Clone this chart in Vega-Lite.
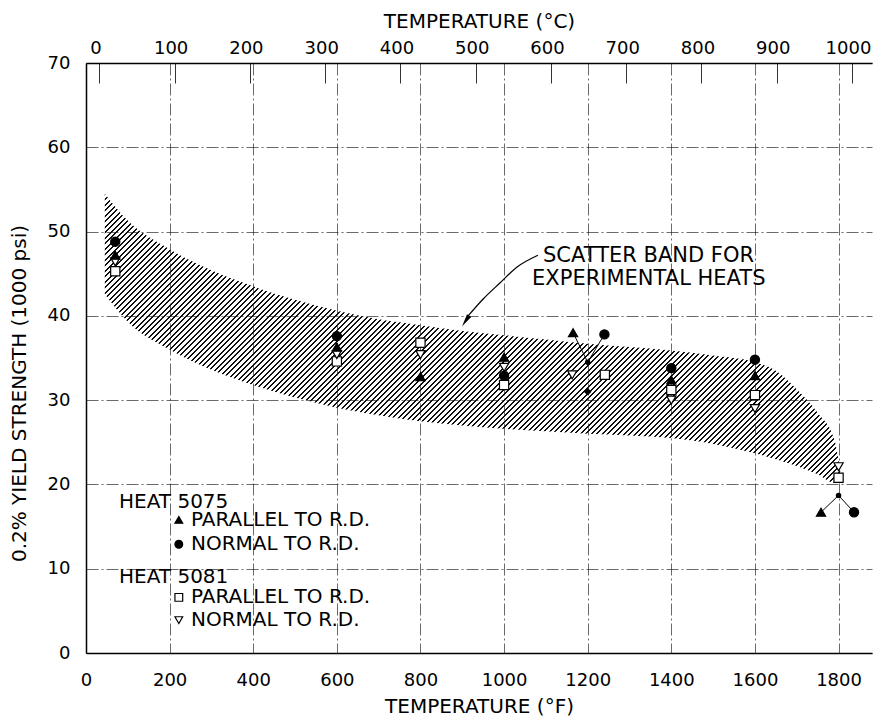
{
"$schema": "https://vega.github.io/schema/vega-lite/v6.json",
"width": 786, "height": 590,
"autosize": {"type": "none"},
"padding": {"left": 86, "top": 63, "right": 2, "bottom": 68},
"background": "white",
"config": {
  "view": {"stroke": null},
  "font": "DejaVu Sans",
  "axis": {"labelFont": "DejaVu Sans", "labelFontSize": 18, "labelColor": "black", "titleFont": "DejaVu Sans", "titleFontSize": 20, "titleFontWeight": "normal", "titleColor": "black", "domainColor": "black", "domainWidth": 1.5, "gridColor": "#222", "gridWidth": 0.8, "gridDash": [12, 3, 2, 3], "gridOpacity": 0.85, "tickColor": "#333", "tickSize": 0, "labelFlush": false, "format": "d"}
},
"layer": [
{
  "encoding": {
    "x": {"field": "F", "type": "quantitative", "scale": {"domain": [0, 1880], "nice": false, "zero": false},
      "axis": {"orient": "bottom", "values": [0, 200, 400, 600, 800, 1000, 1200, 1400, 1600, 1800], "format": "d", "title": "TEMPERATURE (°F)", "grid": true, "labelPadding": 27, "labelBaseline": "middle", "titleX": 393, "titleY": 59, "titleBaseline": "alphabetic", "titleAlign": "center"}},
    "y": {"field": "v", "type": "quantitative", "scale": {"domain": [0, 70], "nice": false},
      "axis": {"values": [0, 10, 20, 30, 40, 50, 60, 70], "format": "d", "title": "0.2% YIELD STRENGTH (1000 psi)", "grid": true, "labelPadding": 16, "titleAngle": 270, "titleX": -61, "titleY": 330, "titleAlign": "center", "titleBaseline": "alphabetic"}}
  },
  "layer": [
    {
      "data": {"values": [
        {"F": 45, "v": 54.5, "v2": 42.6},
        {"F": 100, "v": 51.3, "v2": 39.3},
        {"F": 200, "v": 47.9, "v2": 36.0},
        {"F": 300, "v": 45.4, "v2": 33.6},
        {"F": 400, "v": 43.5, "v2": 31.8},
        {"F": 500, "v": 41.9, "v2": 30.3},
        {"F": 600, "v": 40.6, "v2": 29.1},
        {"F": 700, "v": 39.6, "v2": 28.2},
        {"F": 800, "v": 38.9, "v2": 27.5},
        {"F": 900, "v": 38.2, "v2": 27.0},
        {"F": 1000, "v": 37.7, "v2": 26.6},
        {"F": 1100, "v": 37.2, "v2": 26.3},
        {"F": 1200, "v": 36.7, "v2": 26.0},
        {"F": 1300, "v": 36.3, "v2": 25.8},
        {"F": 1400, "v": 35.9, "v2": 25.5},
        {"F": 1500, "v": 35.3, "v2": 24.8},
        {"F": 1600, "v": 34.5, "v2": 23.7},
        {"F": 1650, "v": 33.5, "v2": 23.0},
        {"F": 1700, "v": 31.3, "v2": 22.2},
        {"F": 1750, "v": 28.5, "v2": 21.2},
        {"F": 1790, "v": 25.3, "v2": 20.2},
        {"F": 1805, "v": 21.2, "v2": 20.6}
      ]},
      "mark": {"type": "area", "interpolate": "monotone", "stroke": null, "fill": {"gradient": "linear", "x1": 0, "y1": 0, "x2": 1.295, "y2": 0.5086, "stops": [
{"offset":0.00,"color":"#111"},{"offset":0.0015,"color":"#111"},{"offset":0.0015,"color":"transparent"},{"offset":0.005,"color":"transparent"},{"offset":0.005,"color":"#111"},{"offset":0.0065,"color":"#111"},{"offset":0.0065,"color":"transparent"},{"offset":0.01,"color":"transparent"},
{"offset":0.01,"color":"#111"},{"offset":0.0115,"color":"#111"},{"offset":0.0115,"color":"transparent"},{"offset":0.015,"color":"transparent"},{"offset":0.015,"color":"#111"},{"offset":0.0165,"color":"#111"},{"offset":0.0165,"color":"transparent"},{"offset":0.02,"color":"transparent"},
{"offset":0.02,"color":"#111"},{"offset":0.0215,"color":"#111"},{"offset":0.0215,"color":"transparent"},{"offset":0.025,"color":"transparent"},{"offset":0.025,"color":"#111"},{"offset":0.0265,"color":"#111"},{"offset":0.0265,"color":"transparent"},{"offset":0.03,"color":"transparent"},
{"offset":0.03,"color":"#111"},{"offset":0.0315,"color":"#111"},{"offset":0.0315,"color":"transparent"},{"offset":0.035,"color":"transparent"},{"offset":0.035,"color":"#111"},{"offset":0.0365,"color":"#111"},{"offset":0.0365,"color":"transparent"},{"offset":0.04,"color":"transparent"},
{"offset":0.04,"color":"#111"},{"offset":0.0415,"color":"#111"},{"offset":0.0415,"color":"transparent"},{"offset":0.045,"color":"transparent"},{"offset":0.045,"color":"#111"},{"offset":0.0465,"color":"#111"},{"offset":0.0465,"color":"transparent"},{"offset":0.05,"color":"transparent"},
{"offset":0.05,"color":"#111"},{"offset":0.0515,"color":"#111"},{"offset":0.0515,"color":"transparent"},{"offset":0.055,"color":"transparent"},{"offset":0.055,"color":"#111"},{"offset":0.0565,"color":"#111"},{"offset":0.0565,"color":"transparent"},{"offset":0.06,"color":"transparent"},
{"offset":0.06,"color":"#111"},{"offset":0.0615,"color":"#111"},{"offset":0.0615,"color":"transparent"},{"offset":0.065,"color":"transparent"},{"offset":0.065,"color":"#111"},{"offset":0.0665,"color":"#111"},{"offset":0.0665,"color":"transparent"},{"offset":0.07,"color":"transparent"},
{"offset":0.07,"color":"#111"},{"offset":0.0715,"color":"#111"},{"offset":0.0715,"color":"transparent"},{"offset":0.075,"color":"transparent"},{"offset":0.075,"color":"#111"},{"offset":0.0765,"color":"#111"},{"offset":0.0765,"color":"transparent"},{"offset":0.08,"color":"transparent"},
{"offset":0.08,"color":"#111"},{"offset":0.0815,"color":"#111"},{"offset":0.0815,"color":"transparent"},{"offset":0.085,"color":"transparent"},{"offset":0.085,"color":"#111"},{"offset":0.0865,"color":"#111"},{"offset":0.0865,"color":"transparent"},{"offset":0.09,"color":"transparent"},
{"offset":0.09,"color":"#111"},{"offset":0.0915,"color":"#111"},{"offset":0.0915,"color":"transparent"},{"offset":0.095,"color":"transparent"},{"offset":0.095,"color":"#111"},{"offset":0.0965,"color":"#111"},{"offset":0.0965,"color":"transparent"},{"offset":0.10,"color":"transparent"},
{"offset":0.10,"color":"#111"},{"offset":0.1015,"color":"#111"},{"offset":0.1015,"color":"transparent"},{"offset":0.105,"color":"transparent"},{"offset":0.105,"color":"#111"},{"offset":0.1065,"color":"#111"},{"offset":0.1065,"color":"transparent"},{"offset":0.11,"color":"transparent"},
{"offset":0.11,"color":"#111"},{"offset":0.1115,"color":"#111"},{"offset":0.1115,"color":"transparent"},{"offset":0.115,"color":"transparent"},{"offset":0.115,"color":"#111"},{"offset":0.1165,"color":"#111"},{"offset":0.1165,"color":"transparent"},{"offset":0.12,"color":"transparent"},
{"offset":0.12,"color":"#111"},{"offset":0.1215,"color":"#111"},{"offset":0.1215,"color":"transparent"},{"offset":0.125,"color":"transparent"},{"offset":0.125,"color":"#111"},{"offset":0.1265,"color":"#111"},{"offset":0.1265,"color":"transparent"},{"offset":0.13,"color":"transparent"},
{"offset":0.13,"color":"#111"},{"offset":0.1315,"color":"#111"},{"offset":0.1315,"color":"transparent"},{"offset":0.135,"color":"transparent"},{"offset":0.135,"color":"#111"},{"offset":0.1365,"color":"#111"},{"offset":0.1365,"color":"transparent"},{"offset":0.14,"color":"transparent"},
{"offset":0.14,"color":"#111"},{"offset":0.1415,"color":"#111"},{"offset":0.1415,"color":"transparent"},{"offset":0.145,"color":"transparent"},{"offset":0.145,"color":"#111"},{"offset":0.1465,"color":"#111"},{"offset":0.1465,"color":"transparent"},{"offset":0.15,"color":"transparent"},
{"offset":0.15,"color":"#111"},{"offset":0.1515,"color":"#111"},{"offset":0.1515,"color":"transparent"},{"offset":0.155,"color":"transparent"},{"offset":0.155,"color":"#111"},{"offset":0.1565,"color":"#111"},{"offset":0.1565,"color":"transparent"},{"offset":0.16,"color":"transparent"},
{"offset":0.16,"color":"#111"},{"offset":0.1615,"color":"#111"},{"offset":0.1615,"color":"transparent"},{"offset":0.165,"color":"transparent"},{"offset":0.165,"color":"#111"},{"offset":0.1665,"color":"#111"},{"offset":0.1665,"color":"transparent"},{"offset":0.17,"color":"transparent"},
{"offset":0.17,"color":"#111"},{"offset":0.1715,"color":"#111"},{"offset":0.1715,"color":"transparent"},{"offset":0.175,"color":"transparent"},{"offset":0.175,"color":"#111"},{"offset":0.1765,"color":"#111"},{"offset":0.1765,"color":"transparent"},{"offset":0.18,"color":"transparent"},
{"offset":0.18,"color":"#111"},{"offset":0.1815,"color":"#111"},{"offset":0.1815,"color":"transparent"},{"offset":0.185,"color":"transparent"},{"offset":0.185,"color":"#111"},{"offset":0.1865,"color":"#111"},{"offset":0.1865,"color":"transparent"},{"offset":0.19,"color":"transparent"},
{"offset":0.19,"color":"#111"},{"offset":0.1915,"color":"#111"},{"offset":0.1915,"color":"transparent"},{"offset":0.195,"color":"transparent"},{"offset":0.195,"color":"#111"},{"offset":0.1965,"color":"#111"},{"offset":0.1965,"color":"transparent"},{"offset":0.20,"color":"transparent"},
{"offset":0.20,"color":"#111"},{"offset":0.2015,"color":"#111"},{"offset":0.2015,"color":"transparent"},{"offset":0.205,"color":"transparent"},{"offset":0.205,"color":"#111"},{"offset":0.2065,"color":"#111"},{"offset":0.2065,"color":"transparent"},{"offset":0.21,"color":"transparent"},
{"offset":0.21,"color":"#111"},{"offset":0.2115,"color":"#111"},{"offset":0.2115,"color":"transparent"},{"offset":0.215,"color":"transparent"},{"offset":0.215,"color":"#111"},{"offset":0.2165,"color":"#111"},{"offset":0.2165,"color":"transparent"},{"offset":0.22,"color":"transparent"},
{"offset":0.22,"color":"#111"},{"offset":0.2215,"color":"#111"},{"offset":0.2215,"color":"transparent"},{"offset":0.225,"color":"transparent"},{"offset":0.225,"color":"#111"},{"offset":0.2265,"color":"#111"},{"offset":0.2265,"color":"transparent"},{"offset":0.23,"color":"transparent"},
{"offset":0.23,"color":"#111"},{"offset":0.2315,"color":"#111"},{"offset":0.2315,"color":"transparent"},{"offset":0.235,"color":"transparent"},{"offset":0.235,"color":"#111"},{"offset":0.2365,"color":"#111"},{"offset":0.2365,"color":"transparent"},{"offset":0.24,"color":"transparent"},
{"offset":0.24,"color":"#111"},{"offset":0.2415,"color":"#111"},{"offset":0.2415,"color":"transparent"},{"offset":0.245,"color":"transparent"},{"offset":0.245,"color":"#111"},{"offset":0.2465,"color":"#111"},{"offset":0.2465,"color":"transparent"},{"offset":0.25,"color":"transparent"},
{"offset":0.25,"color":"#111"},{"offset":0.2515,"color":"#111"},{"offset":0.2515,"color":"transparent"},{"offset":0.255,"color":"transparent"},{"offset":0.255,"color":"#111"},{"offset":0.2565,"color":"#111"},{"offset":0.2565,"color":"transparent"},{"offset":0.26,"color":"transparent"},
{"offset":0.26,"color":"#111"},{"offset":0.2615,"color":"#111"},{"offset":0.2615,"color":"transparent"},{"offset":0.265,"color":"transparent"},{"offset":0.265,"color":"#111"},{"offset":0.2665,"color":"#111"},{"offset":0.2665,"color":"transparent"},{"offset":0.27,"color":"transparent"},
{"offset":0.27,"color":"#111"},{"offset":0.2715,"color":"#111"},{"offset":0.2715,"color":"transparent"},{"offset":0.275,"color":"transparent"},{"offset":0.275,"color":"#111"},{"offset":0.2765,"color":"#111"},{"offset":0.2765,"color":"transparent"},{"offset":0.28,"color":"transparent"},
{"offset":0.28,"color":"#111"},{"offset":0.2815,"color":"#111"},{"offset":0.2815,"color":"transparent"},{"offset":0.285,"color":"transparent"},{"offset":0.285,"color":"#111"},{"offset":0.2865,"color":"#111"},{"offset":0.2865,"color":"transparent"},{"offset":0.29,"color":"transparent"},
{"offset":0.29,"color":"#111"},{"offset":0.2915,"color":"#111"},{"offset":0.2915,"color":"transparent"},{"offset":0.295,"color":"transparent"},{"offset":0.295,"color":"#111"},{"offset":0.2965,"color":"#111"},{"offset":0.2965,"color":"transparent"},{"offset":0.30,"color":"transparent"},
{"offset":0.30,"color":"#111"},{"offset":0.3015,"color":"#111"},{"offset":0.3015,"color":"transparent"},{"offset":0.305,"color":"transparent"},{"offset":0.305,"color":"#111"},{"offset":0.3065,"color":"#111"},{"offset":0.3065,"color":"transparent"},{"offset":0.31,"color":"transparent"},
{"offset":0.31,"color":"#111"},{"offset":0.3115,"color":"#111"},{"offset":0.3115,"color":"transparent"},{"offset":0.315,"color":"transparent"},{"offset":0.315,"color":"#111"},{"offset":0.3165,"color":"#111"},{"offset":0.3165,"color":"transparent"},{"offset":0.32,"color":"transparent"},
{"offset":0.32,"color":"#111"},{"offset":0.3215,"color":"#111"},{"offset":0.3215,"color":"transparent"},{"offset":0.325,"color":"transparent"},{"offset":0.325,"color":"#111"},{"offset":0.3265,"color":"#111"},{"offset":0.3265,"color":"transparent"},{"offset":0.33,"color":"transparent"},
{"offset":0.33,"color":"#111"},{"offset":0.3315,"color":"#111"},{"offset":0.3315,"color":"transparent"},{"offset":0.335,"color":"transparent"},{"offset":0.335,"color":"#111"},{"offset":0.3365,"color":"#111"},{"offset":0.3365,"color":"transparent"},{"offset":0.34,"color":"transparent"},
{"offset":0.34,"color":"#111"},{"offset":0.3415,"color":"#111"},{"offset":0.3415,"color":"transparent"},{"offset":0.345,"color":"transparent"},{"offset":0.345,"color":"#111"},{"offset":0.3465,"color":"#111"},{"offset":0.3465,"color":"transparent"},{"offset":0.35,"color":"transparent"},
{"offset":0.35,"color":"#111"},{"offset":0.3515,"color":"#111"},{"offset":0.3515,"color":"transparent"},{"offset":0.355,"color":"transparent"},{"offset":0.355,"color":"#111"},{"offset":0.3565,"color":"#111"},{"offset":0.3565,"color":"transparent"},{"offset":0.36,"color":"transparent"},
{"offset":0.36,"color":"#111"},{"offset":0.3615,"color":"#111"},{"offset":0.3615,"color":"transparent"},{"offset":0.365,"color":"transparent"},{"offset":0.365,"color":"#111"},{"offset":0.3665,"color":"#111"},{"offset":0.3665,"color":"transparent"},{"offset":0.37,"color":"transparent"},
{"offset":0.37,"color":"#111"},{"offset":0.3715,"color":"#111"},{"offset":0.3715,"color":"transparent"},{"offset":0.375,"color":"transparent"},{"offset":0.375,"color":"#111"},{"offset":0.3765,"color":"#111"},{"offset":0.3765,"color":"transparent"},{"offset":0.38,"color":"transparent"},
{"offset":0.38,"color":"#111"},{"offset":0.3815,"color":"#111"},{"offset":0.3815,"color":"transparent"},{"offset":0.385,"color":"transparent"},{"offset":0.385,"color":"#111"},{"offset":0.3865,"color":"#111"},{"offset":0.3865,"color":"transparent"},{"offset":0.39,"color":"transparent"},
{"offset":0.39,"color":"#111"},{"offset":0.3915,"color":"#111"},{"offset":0.3915,"color":"transparent"},{"offset":0.395,"color":"transparent"},{"offset":0.395,"color":"#111"},{"offset":0.3965,"color":"#111"},{"offset":0.3965,"color":"transparent"},{"offset":0.40,"color":"transparent"},
{"offset":0.40,"color":"#111"},{"offset":0.4015,"color":"#111"},{"offset":0.4015,"color":"transparent"},{"offset":0.405,"color":"transparent"},{"offset":0.405,"color":"#111"},{"offset":0.4065,"color":"#111"},{"offset":0.4065,"color":"transparent"},{"offset":0.41,"color":"transparent"},
{"offset":0.41,"color":"#111"},{"offset":0.4115,"color":"#111"},{"offset":0.4115,"color":"transparent"},{"offset":0.415,"color":"transparent"},{"offset":0.415,"color":"#111"},{"offset":0.4165,"color":"#111"},{"offset":0.4165,"color":"transparent"},{"offset":0.42,"color":"transparent"},
{"offset":0.42,"color":"#111"},{"offset":0.4215,"color":"#111"},{"offset":0.4215,"color":"transparent"},{"offset":0.425,"color":"transparent"},{"offset":0.425,"color":"#111"},{"offset":0.4265,"color":"#111"},{"offset":0.4265,"color":"transparent"},{"offset":0.43,"color":"transparent"},
{"offset":0.43,"color":"#111"},{"offset":0.4315,"color":"#111"},{"offset":0.4315,"color":"transparent"},{"offset":0.435,"color":"transparent"},{"offset":0.435,"color":"#111"},{"offset":0.4365,"color":"#111"},{"offset":0.4365,"color":"transparent"},{"offset":0.44,"color":"transparent"},
{"offset":0.44,"color":"#111"},{"offset":0.4415,"color":"#111"},{"offset":0.4415,"color":"transparent"},{"offset":0.445,"color":"transparent"},{"offset":0.445,"color":"#111"},{"offset":0.4465,"color":"#111"},{"offset":0.4465,"color":"transparent"},{"offset":0.45,"color":"transparent"},
{"offset":0.45,"color":"#111"},{"offset":0.4515,"color":"#111"},{"offset":0.4515,"color":"transparent"},{"offset":0.455,"color":"transparent"},{"offset":0.455,"color":"#111"},{"offset":0.4565,"color":"#111"},{"offset":0.4565,"color":"transparent"},{"offset":0.46,"color":"transparent"},
{"offset":0.46,"color":"#111"},{"offset":0.4615,"color":"#111"},{"offset":0.4615,"color":"transparent"},{"offset":0.465,"color":"transparent"},{"offset":0.465,"color":"#111"},{"offset":0.4665,"color":"#111"},{"offset":0.4665,"color":"transparent"},{"offset":0.47,"color":"transparent"},
{"offset":0.47,"color":"#111"},{"offset":0.4715,"color":"#111"},{"offset":0.4715,"color":"transparent"},{"offset":0.475,"color":"transparent"},{"offset":0.475,"color":"#111"},{"offset":0.4765,"color":"#111"},{"offset":0.4765,"color":"transparent"},{"offset":0.48,"color":"transparent"},
{"offset":0.48,"color":"#111"},{"offset":0.4815,"color":"#111"},{"offset":0.4815,"color":"transparent"},{"offset":0.485,"color":"transparent"},{"offset":0.485,"color":"#111"},{"offset":0.4865,"color":"#111"},{"offset":0.4865,"color":"transparent"},{"offset":0.49,"color":"transparent"},
{"offset":0.49,"color":"#111"},{"offset":0.4915,"color":"#111"},{"offset":0.4915,"color":"transparent"},{"offset":0.495,"color":"transparent"},{"offset":0.495,"color":"#111"},{"offset":0.4965,"color":"#111"},{"offset":0.4965,"color":"transparent"},{"offset":0.50,"color":"transparent"},
{"offset":0.50,"color":"#111"},{"offset":0.5015,"color":"#111"},{"offset":0.5015,"color":"transparent"},{"offset":0.505,"color":"transparent"},{"offset":0.505,"color":"#111"},{"offset":0.5065,"color":"#111"},{"offset":0.5065,"color":"transparent"},{"offset":0.51,"color":"transparent"},
{"offset":0.51,"color":"#111"},{"offset":0.5115,"color":"#111"},{"offset":0.5115,"color":"transparent"},{"offset":0.515,"color":"transparent"},{"offset":0.515,"color":"#111"},{"offset":0.5165,"color":"#111"},{"offset":0.5165,"color":"transparent"},{"offset":0.52,"color":"transparent"},
{"offset":0.52,"color":"#111"},{"offset":0.5215,"color":"#111"},{"offset":0.5215,"color":"transparent"},{"offset":0.525,"color":"transparent"},{"offset":0.525,"color":"#111"},{"offset":0.5265,"color":"#111"},{"offset":0.5265,"color":"transparent"},{"offset":0.53,"color":"transparent"},
{"offset":0.53,"color":"#111"},{"offset":0.5315,"color":"#111"},{"offset":0.5315,"color":"transparent"},{"offset":0.535,"color":"transparent"},{"offset":0.535,"color":"#111"},{"offset":0.5365,"color":"#111"},{"offset":0.5365,"color":"transparent"},{"offset":0.54,"color":"transparent"},
{"offset":0.54,"color":"#111"},{"offset":0.5415,"color":"#111"},{"offset":0.5415,"color":"transparent"},{"offset":0.545,"color":"transparent"},{"offset":0.545,"color":"#111"},{"offset":0.5465,"color":"#111"},{"offset":0.5465,"color":"transparent"},{"offset":0.55,"color":"transparent"},
{"offset":0.55,"color":"#111"},{"offset":0.5515,"color":"#111"},{"offset":0.5515,"color":"transparent"},{"offset":0.555,"color":"transparent"},{"offset":0.555,"color":"#111"},{"offset":0.5565,"color":"#111"},{"offset":0.5565,"color":"transparent"},{"offset":0.56,"color":"transparent"},
{"offset":0.56,"color":"#111"},{"offset":0.5615,"color":"#111"},{"offset":0.5615,"color":"transparent"},{"offset":0.565,"color":"transparent"},{"offset":0.565,"color":"#111"},{"offset":0.5665,"color":"#111"},{"offset":0.5665,"color":"transparent"},{"offset":0.57,"color":"transparent"},
{"offset":0.57,"color":"#111"},{"offset":0.5715,"color":"#111"},{"offset":0.5715,"color":"transparent"},{"offset":0.575,"color":"transparent"},{"offset":0.575,"color":"#111"},{"offset":0.5765,"color":"#111"},{"offset":0.5765,"color":"transparent"},{"offset":0.58,"color":"transparent"},
{"offset":0.58,"color":"#111"},{"offset":0.5815,"color":"#111"},{"offset":0.5815,"color":"transparent"},{"offset":0.585,"color":"transparent"},{"offset":0.585,"color":"#111"},{"offset":0.5865,"color":"#111"},{"offset":0.5865,"color":"transparent"},{"offset":0.59,"color":"transparent"},
{"offset":0.59,"color":"#111"},{"offset":0.5915,"color":"#111"},{"offset":0.5915,"color":"transparent"},{"offset":0.595,"color":"transparent"},{"offset":0.595,"color":"#111"},{"offset":0.5965,"color":"#111"},{"offset":0.5965,"color":"transparent"},{"offset":0.60,"color":"transparent"},
{"offset":0.60,"color":"#111"},{"offset":0.6015,"color":"#111"},{"offset":0.6015,"color":"transparent"},{"offset":0.605,"color":"transparent"},{"offset":0.605,"color":"#111"},{"offset":0.6065,"color":"#111"},{"offset":0.6065,"color":"transparent"},{"offset":0.61,"color":"transparent"},
{"offset":0.61,"color":"#111"},{"offset":0.6115,"color":"#111"},{"offset":0.6115,"color":"transparent"},{"offset":0.615,"color":"transparent"},{"offset":0.615,"color":"#111"},{"offset":0.6165,"color":"#111"},{"offset":0.6165,"color":"transparent"},{"offset":0.62,"color":"transparent"},
{"offset":0.62,"color":"#111"},{"offset":0.6215,"color":"#111"},{"offset":0.6215,"color":"transparent"},{"offset":0.625,"color":"transparent"},{"offset":0.625,"color":"#111"},{"offset":0.6265,"color":"#111"},{"offset":0.6265,"color":"transparent"},{"offset":0.63,"color":"transparent"},
{"offset":0.63,"color":"#111"},{"offset":0.6315,"color":"#111"},{"offset":0.6315,"color":"transparent"},{"offset":0.635,"color":"transparent"},{"offset":0.635,"color":"#111"},{"offset":0.6365,"color":"#111"},{"offset":0.6365,"color":"transparent"},{"offset":0.64,"color":"transparent"},
{"offset":0.64,"color":"#111"},{"offset":0.6415,"color":"#111"},{"offset":0.6415,"color":"transparent"},{"offset":0.645,"color":"transparent"},{"offset":0.645,"color":"#111"},{"offset":0.6465,"color":"#111"},{"offset":0.6465,"color":"transparent"},{"offset":0.65,"color":"transparent"},
{"offset":0.65,"color":"#111"},{"offset":0.6515,"color":"#111"},{"offset":0.6515,"color":"transparent"},{"offset":0.655,"color":"transparent"},{"offset":0.655,"color":"#111"},{"offset":0.6565,"color":"#111"},{"offset":0.6565,"color":"transparent"},{"offset":0.66,"color":"transparent"},
{"offset":0.66,"color":"#111"},{"offset":0.6615,"color":"#111"},{"offset":0.6615,"color":"transparent"},{"offset":0.665,"color":"transparent"},{"offset":0.665,"color":"#111"},{"offset":0.6665,"color":"#111"},{"offset":0.6665,"color":"transparent"},{"offset":0.67,"color":"transparent"},
{"offset":0.67,"color":"#111"},{"offset":0.6715,"color":"#111"},{"offset":0.6715,"color":"transparent"},{"offset":0.675,"color":"transparent"},{"offset":0.675,"color":"#111"},{"offset":0.6765,"color":"#111"},{"offset":0.6765,"color":"transparent"},{"offset":0.68,"color":"transparent"},
{"offset":0.68,"color":"#111"},{"offset":0.6815,"color":"#111"},{"offset":0.6815,"color":"transparent"},{"offset":0.685,"color":"transparent"},{"offset":0.685,"color":"#111"},{"offset":0.6865,"color":"#111"},{"offset":0.6865,"color":"transparent"},{"offset":0.69,"color":"transparent"},
{"offset":0.69,"color":"#111"},{"offset":0.6915,"color":"#111"},{"offset":0.6915,"color":"transparent"},{"offset":0.695,"color":"transparent"},{"offset":0.695,"color":"#111"},{"offset":0.6965,"color":"#111"},{"offset":0.6965,"color":"transparent"},{"offset":0.70,"color":"transparent"},
{"offset":0.70,"color":"#111"},{"offset":0.7015,"color":"#111"},{"offset":0.7015,"color":"transparent"},{"offset":0.705,"color":"transparent"},{"offset":0.705,"color":"#111"},{"offset":0.7065,"color":"#111"},{"offset":0.7065,"color":"transparent"},{"offset":0.71,"color":"transparent"},
{"offset":0.71,"color":"#111"},{"offset":0.7115,"color":"#111"},{"offset":0.7115,"color":"transparent"},{"offset":0.715,"color":"transparent"},{"offset":0.715,"color":"#111"},{"offset":0.7165,"color":"#111"},{"offset":0.7165,"color":"transparent"},{"offset":0.72,"color":"transparent"},
{"offset":0.72,"color":"#111"},{"offset":0.7215,"color":"#111"},{"offset":0.7215,"color":"transparent"},{"offset":0.725,"color":"transparent"},{"offset":0.725,"color":"#111"},{"offset":0.7265,"color":"#111"},{"offset":0.7265,"color":"transparent"},{"offset":0.73,"color":"transparent"},
{"offset":0.73,"color":"#111"},{"offset":0.7315,"color":"#111"},{"offset":0.7315,"color":"transparent"},{"offset":0.735,"color":"transparent"},{"offset":0.735,"color":"#111"},{"offset":0.7365,"color":"#111"},{"offset":0.7365,"color":"transparent"},{"offset":0.74,"color":"transparent"},
{"offset":0.74,"color":"#111"},{"offset":0.7415,"color":"#111"},{"offset":0.7415,"color":"transparent"},{"offset":0.745,"color":"transparent"},{"offset":0.745,"color":"#111"},{"offset":0.7465,"color":"#111"},{"offset":0.7465,"color":"transparent"},{"offset":0.75,"color":"transparent"},
{"offset":0.75,"color":"#111"},{"offset":0.7515,"color":"#111"},{"offset":0.7515,"color":"transparent"},{"offset":0.755,"color":"transparent"},{"offset":0.755,"color":"#111"},{"offset":0.7565,"color":"#111"},{"offset":0.7565,"color":"transparent"},{"offset":0.76,"color":"transparent"},
{"offset":0.76,"color":"#111"},{"offset":0.7615,"color":"#111"},{"offset":0.7615,"color":"transparent"},{"offset":0.765,"color":"transparent"},{"offset":0.765,"color":"#111"},{"offset":0.7665,"color":"#111"},{"offset":0.7665,"color":"transparent"},{"offset":0.77,"color":"transparent"},
{"offset":0.77,"color":"#111"},{"offset":0.7715,"color":"#111"},{"offset":0.7715,"color":"transparent"},{"offset":0.775,"color":"transparent"},{"offset":0.775,"color":"#111"},{"offset":0.7765,"color":"#111"},{"offset":0.7765,"color":"transparent"},{"offset":0.78,"color":"transparent"},
{"offset":0.78,"color":"#111"},{"offset":0.7815,"color":"#111"},{"offset":0.7815,"color":"transparent"},{"offset":0.785,"color":"transparent"},{"offset":0.785,"color":"#111"},{"offset":0.7865,"color":"#111"},{"offset":0.7865,"color":"transparent"},{"offset":0.79,"color":"transparent"},
{"offset":0.79,"color":"#111"},{"offset":0.7915,"color":"#111"},{"offset":0.7915,"color":"transparent"},{"offset":0.795,"color":"transparent"},{"offset":0.795,"color":"#111"},{"offset":0.7965,"color":"#111"},{"offset":0.7965,"color":"transparent"},{"offset":0.80,"color":"transparent"},
{"offset":0.80,"color":"#111"},{"offset":0.8015,"color":"#111"},{"offset":0.8015,"color":"transparent"},{"offset":0.805,"color":"transparent"},{"offset":0.805,"color":"#111"},{"offset":0.8065,"color":"#111"},{"offset":0.8065,"color":"transparent"},{"offset":0.81,"color":"transparent"},
{"offset":0.81,"color":"#111"},{"offset":0.8115,"color":"#111"},{"offset":0.8115,"color":"transparent"},{"offset":0.815,"color":"transparent"},{"offset":0.815,"color":"#111"},{"offset":0.8165,"color":"#111"},{"offset":0.8165,"color":"transparent"},{"offset":0.82,"color":"transparent"},
{"offset":0.82,"color":"#111"},{"offset":0.8215,"color":"#111"},{"offset":0.8215,"color":"transparent"},{"offset":0.825,"color":"transparent"},{"offset":0.825,"color":"#111"},{"offset":0.8265,"color":"#111"},{"offset":0.8265,"color":"transparent"},{"offset":0.83,"color":"transparent"},
{"offset":0.83,"color":"#111"},{"offset":0.8315,"color":"#111"},{"offset":0.8315,"color":"transparent"},{"offset":0.835,"color":"transparent"},{"offset":0.835,"color":"#111"},{"offset":0.8365,"color":"#111"},{"offset":0.8365,"color":"transparent"},{"offset":0.84,"color":"transparent"},
{"offset":0.84,"color":"#111"},{"offset":0.8415,"color":"#111"},{"offset":0.8415,"color":"transparent"},{"offset":0.845,"color":"transparent"},{"offset":0.845,"color":"#111"},{"offset":0.8465,"color":"#111"},{"offset":0.8465,"color":"transparent"},{"offset":0.85,"color":"transparent"},
{"offset":0.85,"color":"#111"},{"offset":0.8515,"color":"#111"},{"offset":0.8515,"color":"transparent"},{"offset":0.855,"color":"transparent"},{"offset":0.855,"color":"#111"},{"offset":0.8565,"color":"#111"},{"offset":0.8565,"color":"transparent"},{"offset":0.86,"color":"transparent"},
{"offset":0.86,"color":"#111"},{"offset":0.8615,"color":"#111"},{"offset":0.8615,"color":"transparent"},{"offset":0.865,"color":"transparent"},{"offset":0.865,"color":"#111"},{"offset":0.8665,"color":"#111"},{"offset":0.8665,"color":"transparent"},{"offset":0.87,"color":"transparent"},
{"offset":0.87,"color":"#111"},{"offset":0.8715,"color":"#111"},{"offset":0.8715,"color":"transparent"},{"offset":0.875,"color":"transparent"},{"offset":0.875,"color":"#111"},{"offset":0.8765,"color":"#111"},{"offset":0.8765,"color":"transparent"},{"offset":0.88,"color":"transparent"},
{"offset":0.88,"color":"#111"},{"offset":0.8815,"color":"#111"},{"offset":0.8815,"color":"transparent"},{"offset":0.885,"color":"transparent"},{"offset":0.885,"color":"#111"},{"offset":0.8865,"color":"#111"},{"offset":0.8865,"color":"transparent"},{"offset":0.89,"color":"transparent"},
{"offset":0.89,"color":"#111"},{"offset":0.8915,"color":"#111"},{"offset":0.8915,"color":"transparent"},{"offset":0.895,"color":"transparent"},{"offset":0.895,"color":"#111"},{"offset":0.8965,"color":"#111"},{"offset":0.8965,"color":"transparent"},{"offset":0.90,"color":"transparent"},
{"offset":0.90,"color":"#111"},{"offset":0.9015,"color":"#111"},{"offset":0.9015,"color":"transparent"},{"offset":0.905,"color":"transparent"},{"offset":0.905,"color":"#111"},{"offset":0.9065,"color":"#111"},{"offset":0.9065,"color":"transparent"},{"offset":0.91,"color":"transparent"},
{"offset":0.91,"color":"#111"},{"offset":0.9115,"color":"#111"},{"offset":0.9115,"color":"transparent"},{"offset":0.915,"color":"transparent"},{"offset":0.915,"color":"#111"},{"offset":0.9165,"color":"#111"},{"offset":0.9165,"color":"transparent"},{"offset":0.92,"color":"transparent"},
{"offset":0.92,"color":"#111"},{"offset":0.9215,"color":"#111"},{"offset":0.9215,"color":"transparent"},{"offset":0.925,"color":"transparent"},{"offset":0.925,"color":"#111"},{"offset":0.9265,"color":"#111"},{"offset":0.9265,"color":"transparent"},{"offset":0.93,"color":"transparent"},
{"offset":0.93,"color":"#111"},{"offset":0.9315,"color":"#111"},{"offset":0.9315,"color":"transparent"},{"offset":0.935,"color":"transparent"},{"offset":0.935,"color":"#111"},{"offset":0.9365,"color":"#111"},{"offset":0.9365,"color":"transparent"},{"offset":0.94,"color":"transparent"},
{"offset":0.94,"color":"#111"},{"offset":0.9415,"color":"#111"},{"offset":0.9415,"color":"transparent"},{"offset":0.945,"color":"transparent"},{"offset":0.945,"color":"#111"},{"offset":0.9465,"color":"#111"},{"offset":0.9465,"color":"transparent"},{"offset":0.95,"color":"transparent"}
      ]}},
      "encoding": {"y2": {"field": "v2"}}
    },
    {
      "data": {"values": [
        {"F": 914, "v": 40.0}, {"F": 950, "v": 42.0}, {"F": 990, "v": 43.9}, {"F": 1031, "v": 45.8}, {"F": 1081, "v": 47.2}
      ]},
      "mark": {"type": "line", "interpolate": "monotone", "color": "black", "strokeWidth": 1.2}
    },
    {
      "data": {"values": [{"F": 908, "v": 39.4}]},
      "mark": {"type": "point", "shape": "M0,-1L0.4,1L-0.4,1Z", "angle": 214, "filled": true, "color": "black", "size": 160, "opacity": 1}
    },
    {
      "data": {"values": [
        {"F": 1165, "v": 38.0, "F2": 1200, "v2": 34.5},
        {"F": 1240, "v": 37.8, "F2": 1200, "v2": 34.5},
        {"F": 1758, "v": 16.7, "F2": 1800, "v2": 18.7},
        {"F": 1837, "v": 16.7, "F2": 1800, "v2": 18.7}
      ]},
      "mark": {"type": "rule", "color": "black", "strokeWidth": 1},
      "encoding": {"x2": {"field": "F2"}, "y2": {"field": "v2"}}
    },
    {
      "data": {"values": [
        {"F": 70, "v": 45.3, "s": "5081P"}, {"F": 70, "v": 46.4, "s": "5081N"}, {"F": 70, "v": 47.2, "s": "5075P"}, {"F": 70, "v": 48.8, "s": "5075N"},
        {"F": 600, "v": 34.6, "s": "5081P"}, {"F": 600, "v": 35.4, "s": "5081N"}, {"F": 600, "v": 36.3, "s": "5075P"}, {"F": 600, "v": 37.6, "s": "5075N"},
        {"F": 800, "v": 36.8, "s": "5081P"}, {"F": 800, "v": 35.4, "s": "5081N"}, {"F": 800, "v": 32.8, "s": "5075P"},
        {"F": 1000, "v": 31.8, "s": "5081P"}, {"F": 1000, "v": 33.9, "s": "5081N"}, {"F": 1000, "v": 35.1, "s": "5075P"}, {"F": 1000, "v": 32.9, "s": "5075N"},
        {"F": 1165, "v": 38.0, "s": "5075P"}, {"F": 1240, "v": 37.8, "s": "5075N"}, {"F": 1163, "v": 33.0, "s": "5081N"}, {"F": 1241, "v": 33.0, "s": "5081P"},
        {"F": 1400, "v": 31.2, "s": "5081P"}, {"F": 1400, "v": 30.0, "s": "5081N"}, {"F": 1400, "v": 32.4, "s": "5075P"}, {"F": 1400, "v": 33.8, "s": "5075N"},
        {"F": 1600, "v": 30.6, "s": "5081P"}, {"F": 1600, "v": 29.0, "s": "5081N"}, {"F": 1600, "v": 32.9, "s": "5075P"}, {"F": 1600, "v": 34.8, "s": "5075N"},
        {"F": 1800, "v": 20.8, "s": "5081P"}, {"F": 1800, "v": 22.1, "s": "5081N"}, {"F": 1758, "v": 16.7, "s": "5075P"}, {"F": 1837, "v": 16.7, "s": "5075N"}
      ]},
      "mark": {"type": "point", "filled": true, "stroke": "black", "strokeWidth": 1.2, "size": 85, "opacity": 1},
      "encoding": {
        "fill": {"field": "s", "type": "nominal", "scale": {"domain": ["5075P", "5075N", "5081P", "5081N"], "range": ["black", "black", "white", "white"]}, "legend": null},
        "shape": {"field": "s", "type": "nominal", "scale": {"domain": ["5075P", "5075N", "5081P", "5081N"], "range": ["triangle-up", "circle", "square", "triangle-down"]}, "legend": null}
      }
    },
    {
      "data": {"values": [{"F": 1200, "v": 34.5}, {"F": 1800, "v": 18.7}]},
      "mark": {"type": "point", "shape": "circle", "filled": true, "color": "black", "size": 30, "opacity": 1}
    },
    {
      "data": {"values": [{"F": 1200, "v": 31.0}]},
      "mark": {"type": "point", "shape": "diamond", "filled": true, "color": "black", "size": 60, "opacity": 1}
    },
    {
      "data": {"values": [
        {"F": 222, "v": 15.8, "s": "5075P"}, {"F": 222, "v": 12.9, "s": "5075N"}, {"F": 222, "v": 6.6, "s": "5081P"}, {"F": 222, "v": 3.9, "s": "5081N"}
      ]},
      "mark": {"type": "point", "filled": true, "stroke": "black", "strokeWidth": 1.2, "size": 60, "opacity": 1},
      "encoding": {
        "fill": {"field": "s", "type": "nominal", "legend": null},
        "shape": {"field": "s", "type": "nominal", "legend": null}
      }
    },
    {
      "data": {"values": [
        {"F": 79, "v": 17.9, "t": "HEAT 5075"},
        {"F": 251, "v": 15.8, "t": "PARALLEL TO R.D."},
        {"F": 251, "v": 12.9, "t": "NORMAL TO R.D."},
        {"F": 79, "v": 9.0, "t": "HEAT 5081"},
        {"F": 251, "v": 6.6, "t": "PARALLEL TO R.D."},
        {"F": 251, "v": 3.9, "t": "NORMAL TO R.D."}
      ]},
      "mark": {"type": "text", "align": "left", "baseline": "middle", "font": "DejaVu Sans", "fontSize": 20, "color": "black"},
      "encoding": {"text": {"field": "t"}}
    },
    {
      "data": {"values": [
        {"F": 1093, "v": 47.1, "t": "SCATTER BAND FOR"},
        {"F": 1067, "v": 44.4, "t": "EXPERIMENTAL HEATS"}
      ]},
      "mark": {"type": "text", "align": "left", "baseline": "middle", "font": "DejaVu Sans", "fontSize": 21, "color": "black"},
      "encoding": {"text": {"field": "t"}}
    }
  ]
},
{
  "data": {"values": [{"C": 0}]},
  "mark": {"type": "rule", "opacity": 0},
  "encoding": {
    "x": {"field": "C", "type": "quantitative", "scale": {"domain": [-17.78, 1026.67], "nice": false, "zero": false},
      "axis": {"orient": "top", "values": [0, 100, 200, 300, 400, 500, 600, 700, 800, 900, 1000], "format": "d", "title": "TEMPERATURE (°C)", "grid": false, "ticks": true, "tickSize": -20, "tickColor": "#333", "tickWidth": 1, "labelPadding": 35, "labelOffset": -4, "labelBaseline": "middle", "labelFlush": false, "titleX": 393, "titleY": -36, "titleBaseline": "alphabetic", "titleAlign": "center"}}
  }
}
],
"resolve": {"scale": {"x": "independent"}}
}
